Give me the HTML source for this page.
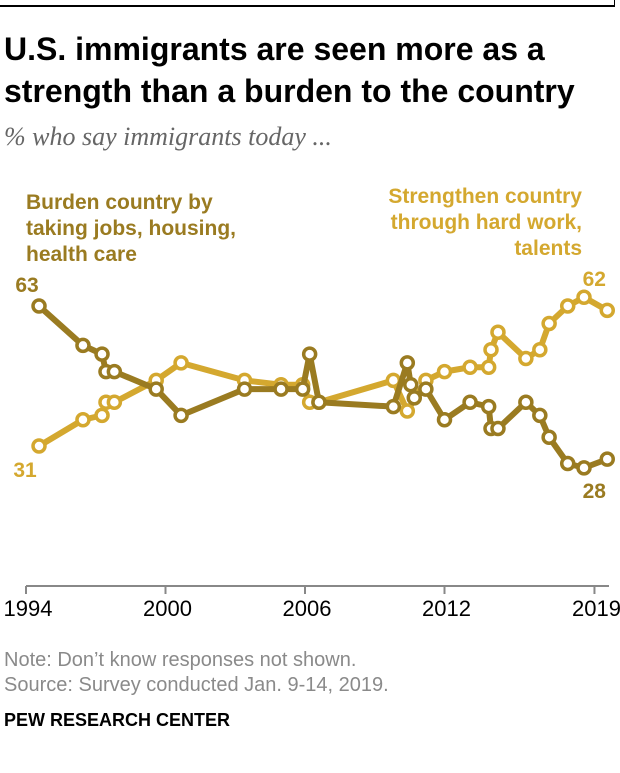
<!DOCTYPE html>
<html><head><meta charset="utf-8">
<style>
body{margin:0;background:#fff;width:620px;height:773px;overflow:hidden;font-family:"Liberation Sans",sans-serif;position:relative}
.t{position:absolute;white-space:nowrap}
</style></head><body>
<div style="position:absolute;left:0;top:5px;width:614px;height:2px;background:#000"></div>
<div style="position:absolute;left:614px;top:0;width:1px;height:7px;background:#000"></div>
<div class="t" style="left:4px;top:28px;font-size:32px;font-weight:bold;line-height:42px;color:#000">U.S. immigrants are seen more as a<br>strength than a burden to the country</div>
<div class="t" style="left:4px;top:122px;font-family:'Liberation Serif',serif;font-style:italic;font-size:26px;color:#666">% who say immigrants today ...</div>
<div class="t" style="left:26px;top:190px;font-size:21px;font-weight:bold;line-height:26px;color:#9a7b21">Burden country by<br>taking jobs, housing,<br>health care</div>
<div class="t" style="right:38px;top:184px;font-size:21px;font-weight:bold;line-height:26px;color:#d4a82f;text-align:right">Strengthen country<br>through hard work,<br>talents</div>
<svg id="chart" width="620" height="773" style="position:absolute;left:0;top:0"></svg>
<div class="t" style="left:4px;top:649px;font-size:20px;color:#8a8a8a">Note: Don’t know responses not shown.</div>
<div class="t" style="left:4px;top:674px;font-size:20px;color:#8a8a8a">Source: Survey conducted Jan. 9-14, 2019.</div>
<div class="t" style="left:4px;top:710px;font-size:18px;font-weight:bold;color:#000">PEW RESEARCH CENTER</div>
<script>
const burdenYears=[1994.56,1996.45,1997.27,1997.44,1997.8,1999.6,2000.67,2003.4,2004.97,2005.9,2006.2,2006.6,2009.8,2010.4,2010.55,2010.7,2011.2,2012,2013.1,2013.9,2014,2014.3,2015.5,2016.1,2016.5,2017.3,2018,2019];
const burdenValues=[63,54,52,48,48,44,38,44,44,44,52,41,40,50,45,42,44,37,41,40,35,35,41,38,33,27,26,28];
const strengthYears=[1994.56,1996.45,1997.27,1997.44,1997.8,1999.6,2000.67,2003.4,2004.97,2005.9,2006.2,2006.6,2009.8,2010.4,2011.2,2012,2013.1,2013.9,2014,2014.3,2015.5,2016.1,2016.5,2017.3,2018,2019];
const strengthValues=[31,37,38,41,41,46,50,46,45,45,41,41,46,39,46,48,49,49,53,57,51,53,59,63,65,62];
const tickYears=[1994,2000,2006,2012,2018.45];
const tickLabels=["1994","2000","2006","2012","2019"];
const NS="http://www.w3.org/2000/svg";
const svg=document.getElementById('chart');
const xS=y=>26+(y-1994)*23.25;
const yS=v=>306+(63-v)*4.375;
function mk(tag,attrs,parent){const e=document.createElementNS(NS,tag);for(const k in attrs)e.setAttribute(k,attrs[k]);(parent||svg).appendChild(e);return e;}
const ax=mk('line',{x1:26,x2:609,y1:586,y2:586,stroke:'#888','stroke-width':2});


tickYears.forEach((t,i)=>{
  const tk=mk('line',{x1:xS(t),x2:xS(t),y1:586,y2:594,stroke:'#888','stroke-width':2});
  
  
  const tx=mk('text',{x:xS(t)+2,y:616,'text-anchor':'middle','font-size':22,fill:'#000','font-family':'Liberation Sans, sans-serif'});
  tx.textContent=tickLabels[i];
  
  
});
function series(years,vals,color,name){
  const g=mk('g',{});
  
  
  const pts=years.map((y,i)=>xS(y)+','+yS(vals[i])).join(' ');
  const pl=mk('polyline',{points:pts,fill:'none',stroke:color,'stroke-width':6,'stroke-linejoin':'round'},g);
  
  
  years.forEach((y,i)=>{
    const c=mk('circle',{cx:xS(y),cy:yS(vals[i]),r:6,fill:'#fff',stroke:color,'stroke-width':3.5},g);
    
    
  });
}
series(strengthYears,strengthValues,'#d4a82f','strengthen');
series(burdenYears,burdenValues,'#9a7b21','burden');
function lab(x,y,txt,color,name,anchor){
  const t=mk('text',{x:x,y:y,'font-size':21,'font-weight':'bold',fill:color,'text-anchor':anchor,'font-family':'Liberation Sans, sans-serif'});
  t.textContent=txt;
  
  
}
lab(xS(burdenYears[0])-12,292,burdenValues[0],'#9a7b21','burden-start-value','middle');
lab(xS(strengthYears[0])-14,477,strengthValues[0],'#d4a82f','strengthen-start-value','middle');
lab(xS(2019)-13,286,strengthValues[strengthValues.length-1],'#d4a82f','strengthen-end-value','middle');
lab(xS(2019)-13,498,burdenValues[burdenValues.length-1],'#9a7b21','burden-end-value','middle');
</script>
</body></html>
